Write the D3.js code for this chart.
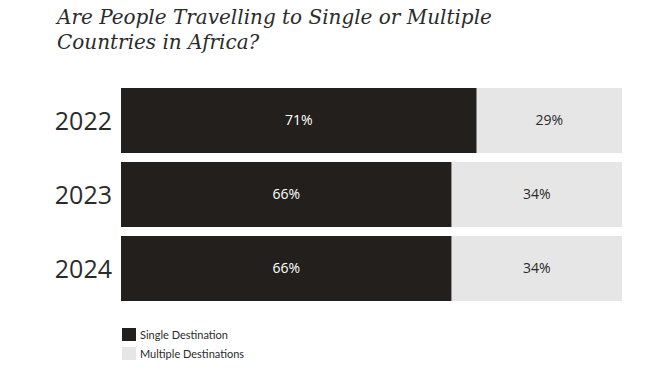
<!DOCTYPE html>
<html>
<head>
<meta charset="utf-8">
<script src="https://cdn.jsdelivr.net/npm/d3@7"></script>
<style>
  body { margin: 0; background: #fff; }
  .title { font-family: "DejaVu Serif", serif; font-style: italic; fill: #2b2b2b; }
  .year { font-family: "Open Sans", sans-serif; fill: #2b2b2b; }
  .val { font-family: "Open Sans", sans-serif; font-size: 14px; font-weight: 500; }
  .legend { font-family: "Lato", sans-serif; font-size: 11px; fill: #2b2b2b; }
</style>
</head>
<body>
<script>
var years = ["2022", "2023", "2024"];
var single = [71, 66, 66];
var multiple = [29, 34, 34];
var seriesNames = ["Single Destination", "Multiple Destinations"];
var titleLines = ["Are People Travelling to Single or Multiple", "Countries in Africa?"];

var width = 667, height = 376;
var dark = "#231f1c", light = "#e6e6e6";

var svg = d3.select("body").append("svg")
  .attr("width", width)
  .attr("height", height);

// title
svg.selectAll(".title")
  .data(titleLines)
  .enter().append("text")
  .attr("class", "title")
  .attr("x", 57)
  .attr("y", function(d, i) { return 24 + i * 25; })
  .style("font-size", "21px")
  .text(function(d) { return d; });

// fit first line width to reference
var t0 = svg.select(".title").node();
var w0 = t0.getComputedTextLength();
var fs = 21 * 435 / w0;
svg.selectAll(".title").style("font-size", fs + "px");

var x = d3.scaleLinear().domain([0, 100]).range([121, 622]);
var y = d3.scaleBand().domain(years).range([88, 301]).paddingInner(9 / 74).paddingOuter(0);

var rows = years.map(function(d, i) { return {year: d, single: single[i], multiple: multiple[i]}; });

var g = svg.selectAll(".row")
  .data(rows)
  .enter().append("g")
  .attr("class", "row");

g.append("rect")
  .attr("x", x(0))
  .attr("y", function(d) { return y(d.year); })
  .attr("width", function(d) { return x(d.single) - x(0); })
  .attr("height", y.bandwidth())
  .attr("fill", dark);

g.append("rect")
  .attr("x", function(d) { return x(d.single); })
  .attr("y", function(d) { return y(d.year); })
  .attr("width", function(d) { return x(d.single + d.multiple) - x(d.single); })
  .attr("height", y.bandwidth())
  .attr("fill", light);

g.append("text")
  .attr("class", "val")
  .attr("x", function(d) { return (x(0) + x(d.single)) / 2; })
  .attr("y", function(d) { return y(d.year) + y.bandwidth() / 2; })
  .attr("dy", "0.35em")
  .attr("text-anchor", "middle")
  .attr("fill", "#fff")
  .text(function(d) { return d.single + "%"; });

g.append("text")
  .attr("class", "val")
  .attr("x", function(d) { return (x(d.single) + x(d.single + d.multiple)) / 2; })
  .attr("y", function(d) { return y(d.year) + y.bandwidth() / 2; })
  .attr("dy", "0.35em")
  .attr("text-anchor", "middle")
  .attr("fill", "#2b2b2b")
  .text(function(d) { return d.multiple + "%"; });

g.append("text")
  .attr("class", "year")
  .attr("x", 112)
  .attr("y", function(d) { return y(d.year) + y.bandwidth() / 2; })
  .attr("dy", "0.36em")
  .attr("text-anchor", "end")
  .style("font-size", "25px")
  .text(function(d) { return d.year; });

// legend
var legend = svg.selectAll(".leg")
  .data(seriesNames)
  .enter().append("g")
  .attr("class", "leg")
  .attr("transform", function(d, i) { return "translate(122," + (328 + i * 19) + ")"; });

legend.append("rect")
  .attr("width", 14)
  .attr("height", 13)
  .attr("fill", function(d, i) { return i == 0 ? dark : light; });

legend.append("text")
  .attr("class", "legend")
  .attr("x", 18)
  .attr("y", 7)
  .attr("dy", "0.35em")
  .text(function(d) { return d; });
</script>
</body>
</html>
